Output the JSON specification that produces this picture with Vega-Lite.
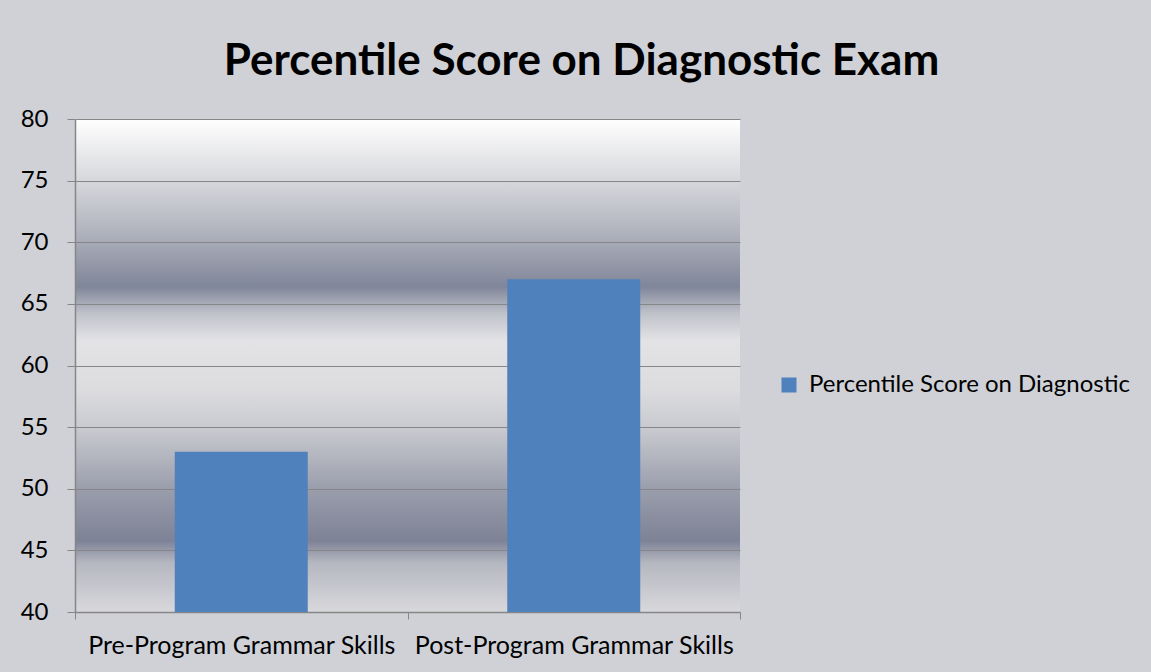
{
  "$schema": "https://vega.github.io/schema/vega-lite/v6.json",
  "autosize": "none",
  "width": 665,
  "height": 493,
  "padding": {"left": 75, "top": 119, "right": 411, "bottom": 60},
  "background": "#cfd1d7",
  "title": {
    "text": "Percentile Score on Diagnostic Exam",
    "font": "Lato",
    "fontSize": 44,
    "fontWeight": "bold",
    "color": "#000000",
    "anchor": "middle",
    "dx": 174,
    "offset": 23
  },
  "data": {
    "values": [
      {"category": "Pre-Program Grammar Skills", "series": "Percentile Score on Diagnostic", "value": 53},
      {"category": "Post-Program Grammar Skills", "series": "Percentile Score on Diagnostic", "value": 67}
    ]
  },
  "mark": {"type": "bar", "width": {"band": 0.4}, "clip": true},
  "encoding": {
    "x": {
      "field": "category",
      "type": "nominal",
      "sort": null,
      "scale": {"paddingInner": 0, "paddingOuter": 0},
      "axis": {
        "title": null,
        "labelAngle": 0,
        "labelFont": "Lato",
        "labelFontSize": 25,
        "labelColor": "#000000",
        "labelPadding": 14,
        "labelLimit": 400,
        "tickBand": "extent",
        "tickSize": 7,
        "tickColor": "#868686",
        "domainColor": "#868686",
        "domainWidth": 1.5,
        "grid": false
      }
    },
    "y": {
      "field": "value",
      "type": "quantitative",
      "scale": {"domain": [40, 80], "zero": false, "nice": false},
      "axis": {
        "title": null,
        "values": [40, 45, 50, 55, 60, 65, 70, 75, 80],
        "labelFont": "Lato",
        "labelFontSize": 24,
        "labelColor": "#000000",
        "labelPadding": 19,
        "tickSize": 8,
        "tickColor": "#868686",
        "domainColor": "#868686",
        "domainWidth": 1.5,
        "grid": true,
        "gridColor": "#868686",
        "gridWidth": 1.2,
        "gridOpacity": 1
      }
    },
    "color": {
      "field": "series",
      "type": "nominal",
      "scale": {"range": ["#4F81BD"]},
      "legend": {
        "title": null,
        "orient": "none",
        "legendX": 702,
        "legendY": 254,
        "symbolType": "square",
        "symbolSize": 225,
        "symbolStrokeWidth": 0,
        "labelFont": "Lato",
        "labelFontSize": 24,
        "labelColor": "#000000",
        "labelOffset": 8,
        "labelLimit": 500
      }
    }
  },
  "config": {
    "view": {
      "stroke": null,
      "fill": {
        "gradient": "linear",
        "x1": 0, "y1": 0, "x2": 0, "y2": 1,
        "stops": [
          {"offset": 0, "color": "#ffffff"},
          {"offset": 0.12, "color": "#d8d9dd"},
          {"offset": 0.23, "color": "#b0b3bd"},
          {"offset": 0.34, "color": "#80869a"},
          {"offset": 0.395, "color": "#c0c2ca"},
          {"offset": 0.45, "color": "#e3e3e6"},
          {"offset": 0.55, "color": "#dcdcdf"},
          {"offset": 0.63, "color": "#c8c9cf"},
          {"offset": 0.75, "color": "#9a9eac"},
          {"offset": 0.855, "color": "#7d8296"},
          {"offset": 0.9, "color": "#b5b7c0"},
          {"offset": 1, "color": "#d8d8dc"}
        ]
      }
    }
  }
}
